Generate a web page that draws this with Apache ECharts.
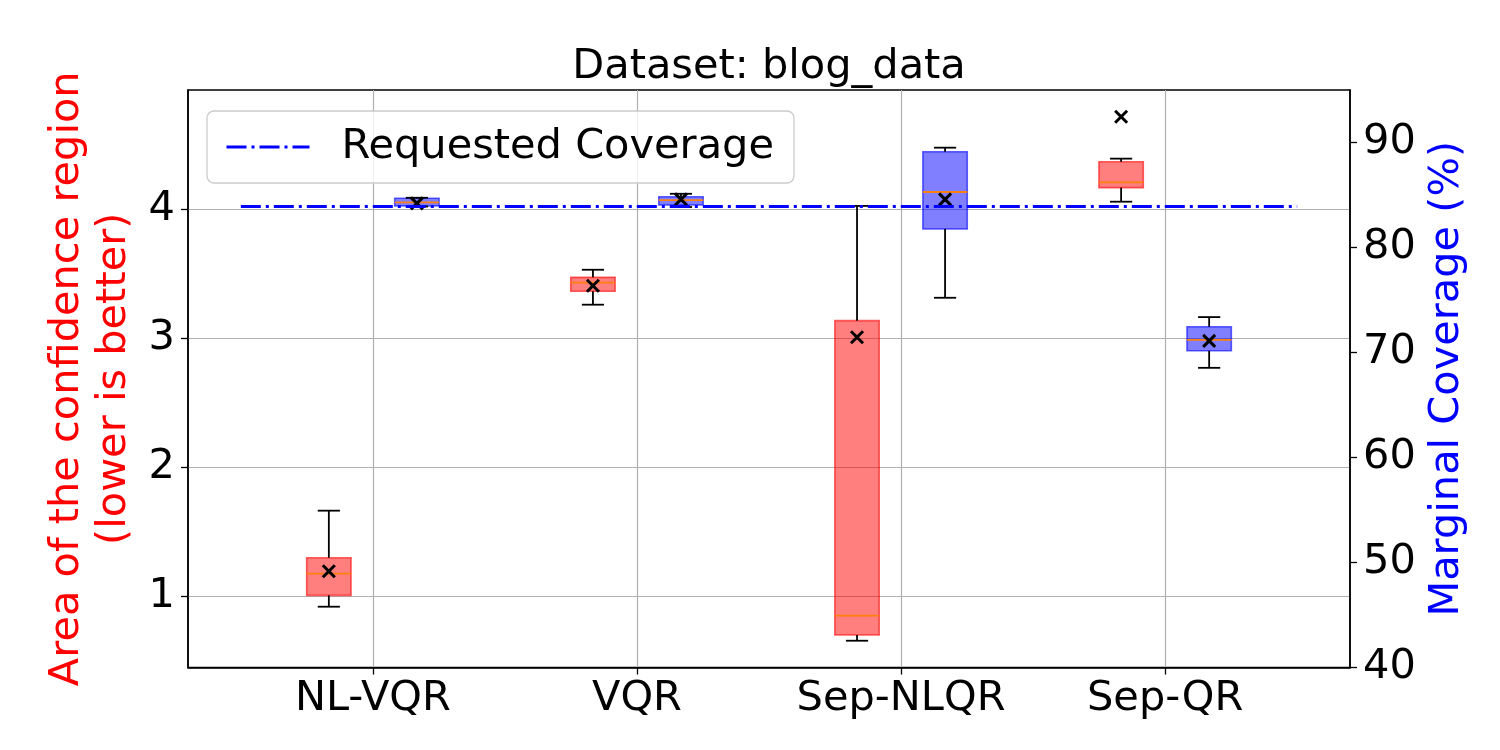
<!DOCTYPE html>
<html>
<head>
<meta charset="utf-8">
<script src="https://cdn.jsdelivr.net/npm/echarts@6/dist/echarts.min.js"></script>
<style>html,body{margin:0;padding:0;background:#fff}#chart{width:1500px;height:750px}</style>
</head>
<body>
<div id="chart"></div>
<script>
// ---- data ----
const categories = ['NL-VQR', 'VQR', 'Sep-NLQR', 'Sep-QR'];
const areaLow    = [0.917, 3.260, 0.653, 4.059];
const areaQ1     = [1.005, 3.364, 0.697, 4.168];
const areaMedian = [1.173, 3.431, 0.847, 4.209];
const areaQ3     = [1.297, 3.472, 3.136, 4.369];
const areaHigh   = [1.662, 3.531, 4.026, 4.393];
const areaMean   = [1.192, 3.407, 3.007, 4.718];

const covLow    = [83.89, 83.84, 75.20, 68.53];
const covQ1     = [83.93, 84.03, 81.74, 70.15];
const covMedian = [84.29, 84.50, 85.27, 71.20];
const covQ3     = [84.67, 84.82, 89.10, 72.44];
const covHigh   = [84.72, 85.10, 89.49, 73.36];
const covMean   = [84.19, 84.57, 84.57, 71.10];

const requestedCoverage = 83.9;
const requestedSpan = [0.5, 4.5];
const xTicks = [1, 2, 3, 4];
const leftTicks = [1, 2, 3, 4];
const rightTicks = [40, 50, 60, 70, 80, 90];

// ---- style ----
const FONT = 'DejaVu Sans';
const FS = 41.5;
const BOX_W = 0.168;
const OFFSET = 0.1667;

function boxData(low, q1, med, q3, high, mean, off) {
  return categories.map((c, i) => [i + 1 + off, low[i], q1[i], med[i], q3[i], high[i], mean[i]]);
}

function makeRender(fill, edge) {
  return function (params, api) {
    const x = api.value(0);
    const lo = api.coord([x, api.value(1)]);
    const q1 = api.coord([x, api.value(2)]);
    const md = api.coord([x, api.value(3)]);
    const q3 = api.coord([x, api.value(4)]);
    const hi = api.coord([x, api.value(5)]);
    const mn = api.coord([x, api.value(6)]);
    const left = api.coord([x - BOX_W / 2, api.value(3)])[0];
    const right = api.coord([x + BOX_W / 2, api.value(3)])[0];
    const capL = api.coord([x - BOX_W / 4, api.value(3)])[0];
    const capR = api.coord([x + BOX_W / 4, api.value(3)])[0];
    const cx = md[0];
    const wl = { stroke: '#000', lineWidth: 1.8 };
    const m = 6;
    return {
      type: 'group',
      children: [
        { type: 'rect', shape: { x: left, y: q3[1], width: right - left, height: q1[1] - q3[1] },
          style: { fill: fill, stroke: edge, lineWidth: 1.6 } },
        { type: 'line', shape: { x1: left, y1: md[1], x2: right, y2: md[1] },
          style: { stroke: '#ff7f0e', lineWidth: 1.8 } },
        { type: 'line', shape: { x1: cx, y1: q1[1], x2: cx, y2: lo[1] }, style: wl },
        { type: 'line', shape: { x1: cx, y1: q3[1], x2: cx, y2: hi[1] }, style: wl },
        { type: 'line', shape: { x1: capL, y1: lo[1], x2: capR, y2: lo[1] }, style: wl },
        { type: 'line', shape: { x1: capL, y1: hi[1], x2: capR, y2: hi[1] }, style: wl },
        { type: 'line', shape: { x1: mn[0] - m, y1: mn[1] - m, x2: mn[0] + m, y2: mn[1] + m },
          style: { stroke: '#000', lineWidth: 3 } },
        { type: 'line', shape: { x1: mn[0] - m, y1: mn[1] + m, x2: mn[0] + m, y2: mn[1] - m },
          style: { stroke: '#000', lineWidth: 3 } }
      ]
    };
  };
}

const chart = echarts.init(document.getElementById('chart'), null, { renderer: 'canvas' });
const tickStyle = { fontFamily: FONT, fontSize: FS, color: '#000' };

chart.setOption({
  animation: false,
  backgroundColor: '#fff',
  title: {
    text: 'Dataset: blog_data', left: 769, top: 46, textAlign: 'center', padding: 0,
    textStyle: { fontFamily: FONT, fontSize: FS, fontWeight: 'normal', color: '#000', lineHeight: 42 }
  },
  legend: {
    left: 207, top: 111,
    data: [{ name: 'Requested Coverage' }],
    itemWidth: 83, itemHeight: 14,
    padding: [15, 20, 15, 18],
    backgroundColor: 'rgba(255,255,255,0.8)',
    borderColor: '#cccccc', borderWidth: 1.3, borderRadius: 7,
    selectedMode: false,
    itemStyle: { opacity: 0 },
    lineStyle: { width: 3 },
    textStyle: { fontFamily: FONT, fontSize: FS, color: '#000', padding: [0, 0, 0, 27], lineHeight: 42 }
  },
  grid: {
    left: 188, right: 150, top: 90, bottom: 82.5,
    show: true, borderColor: '#000', borderWidth: 1.5, backgroundColor: 'transparent'
  },
  xAxis: {
    type: 'value', min: 0.3, max: 4.7,
    axisLine: { show: true, onZero: false, lineStyle: { color: '#000', width: 1.5 } },
    axisTick: { show: true, customValues: xTicks, length: 7, lineStyle: { color: '#000', width: 1.3 } },
    axisLabel: { customValues: xTicks, margin: 11, formatter: v => categories[Math.round(v) - 1] || '', ...tickStyle },
    splitLine: { show: true, lineStyle: { color: '#b0b0b0', width: 1.2 } }
  },
  yAxis: [
    {
      type: 'value', position: 'left', min: 0.4453, max: 4.9255,
      name: 'Area of the confidence region\n(lower is better)',
      nameLocation: 'middle', nameRotate: 90, nameGap: 47,
      nameTextStyle: { fontFamily: FONT, fontSize: FS, color: '#ff0000', lineHeight: 47 },
      axisLine: { show: true, onZero: false, lineStyle: { color: '#000', width: 1.5 } },
      axisTick: { show: true, customValues: leftTicks, length: 7, lineStyle: { color: '#000', width: 1.3 } },
      axisLabel: { customValues: leftTicks, margin: 13, ...tickStyle },
      splitLine: { show: true, lineStyle: { color: '#b0b0b0', width: 1.2 } }
    },
    {
      type: 'value', position: 'right', min: 40, max: 94.98,
      name: 'Marginal Coverage (%)',
      nameLocation: 'middle', nameRotate: 90, nameGap: 71,
      nameTextStyle: { fontFamily: FONT, fontSize: FS, color: '#0000ff', lineHeight: 42 },
      axisLine: { show: true, onZero: false, lineStyle: { color: '#000', width: 1.5 } },
      axisTick: { show: true, customValues: rightTicks, length: 7, lineStyle: { color: '#000', width: 1.3 } },
      axisLabel: { customValues: rightTicks, margin: 13, ...tickStyle },
      splitLine: { show: false }
    }
  ],
  series: [
    {
      name: 'Area', type: 'custom', xAxisIndex: 0, yAxisIndex: 0, z: 3,
      renderItem: makeRender('rgba(255,0,0,0.5)', 'rgba(255,0,0,0.6)'),
      encode: { x: 0, y: [1, 2, 3, 4, 5, 6] },
      data: boxData(areaLow, areaQ1, areaMedian, areaQ3, areaHigh, areaMean, -OFFSET)
    },
    {
      name: 'Coverage', type: 'custom', xAxisIndex: 0, yAxisIndex: 1, z: 4,
      renderItem: makeRender('rgba(0,0,255,0.5)', 'rgba(0,0,255,0.6)'),
      encode: { x: 0, y: [1, 2, 3, 4, 5, 6] },
      data: boxData(covLow, covQ1, covMedian, covQ3, covHigh, covMean, OFFSET)
    },
    {
      name: 'Requested Coverage', type: 'line', xAxisIndex: 0, yAxisIndex: 1, z: 5,
      symbol: 'none', showSymbol: false,
      lineStyle: { color: '#0000ff', width: 3, type: [20, 5, 3, 5] },
      itemStyle: { color: '#0000ff' },
      data: requestedSpan.map(x => [x, requestedCoverage])
    }
  ]
});
</script>
</body>
</html>
